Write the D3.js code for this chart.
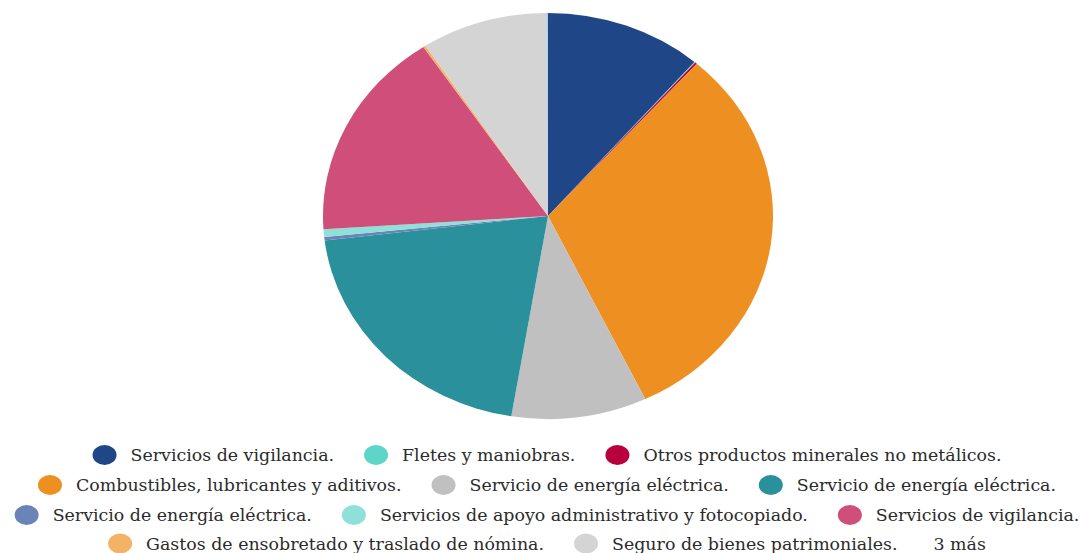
<!DOCTYPE html>
<html><head><meta charset="utf-8">
<script src="https://cdn.jsdelivr.net/npm/d3@7"></script>
<style>html,body{margin:0;padding:0;background:#fff;}svg{display:block;}</style>
</head><body>
<svg id="c" width="1086" height="553"></svg>
<script>
const categories = [
  "Servicios de vigilancia.",
  "Fletes y maniobras.",
  "Otros productos minerales no metálicos.",
  "Combustibles, lubricantes y aditivos.",
  "Servicio de energía eléctrica.",
  "Servicio de energía eléctrica.",
  "Servicio de energía eléctrica.",
  "Servicios de apoyo administrativo y fotocopiado.",
  "Servicios de vigilancia.",
  "Gastos de ensobretado y traslado de nómina.",
  "Seguro de bienes patrimoniales.",
  "Otro 1", "Otro 2", "Otro 3"
];
const values = [11.28, 0.08, 0.14, 31.39, 9.72, 20.47, 0.28, 0.61, 16.69, 0.17, 9.06, 0.05, 0.04, 0.02];
const colors = ["#1F4788", "#5DD5C8", "#B8003D", "#EE9021", "#C0C0C0", "#2A909C", "#6A84B8", "#8EE0D8", "#CF4F7A", "#F4B266", "#D4D4D4", "#9CC6E0", "#7FB3D5", "#A9D1E8"];
const legendShown = 11;
const moreLabel = "3 más";

const svg = d3.select("#c");
const cx = 548, cy = 216, rx = 225, ry = 203;
const data = categories.map((c, i) => ({name: c, value: values[i], color: colors[i]}));
const pie = d3.pie().value(d => d.value).sort(null);
const arc = d3.arc().innerRadius(0).outerRadius(ry);
svg.append("g").attr("transform", `translate(${cx},${cy}) scale(${rx/ry},1)`)
  .selectAll("path").data(pie(data)).join("path")
  .attr("d", arc).attr("fill", d => d.data.color);

// legend
const fontFamily = "'DejaVu Serif', serif";
const fontSize = 17.4;
const rows = [[0,1,2],[3,4,5],[6,7,8],[9,10,-1]];
const rowY = [455, 485, 515, 543.5];
const markerToText = 26, textToMarker = 42;
const lg = svg.append("g");
rows.forEach((row, ri) => {
  const g = lg.append("g");
  let x = 0;
  row.forEach(idx => {
    if (idx >= 0) {
      g.append("ellipse").attr("cx", x).attr("cy", rowY[ri]).attr("rx", 12).attr("ry", 10).attr("fill", data[idx].color);
      const t = g.append("text").attr("x", x + markerToText).attr("y", rowY[ri]).attr("dy", "0.35em")
        .attr("font-family", fontFamily).attr("font-size", fontSize).attr("fill", "#2b2b2b").text(data[idx].name);
      const w = t.node().getComputedTextLength();
      x += markerToText + w + textToMarker;
    } else {
      const t = g.append("text").attr("x", x - textToMarker + 36).attr("y", rowY[ri]).attr("dy", "0.35em")
        .attr("font-family", fontFamily).attr("font-size", fontSize).attr("fill", "#2b2b2b").text(moreLabel);
      x = x - textToMarker + 36 + t.node().getComputedTextLength() + textToMarker;
    }
  });
  const total = x - textToMarker + 12;
  g.attr("transform", `translate(${547 - total/2 + 12},0)`);
});
</script>
</body></html>
